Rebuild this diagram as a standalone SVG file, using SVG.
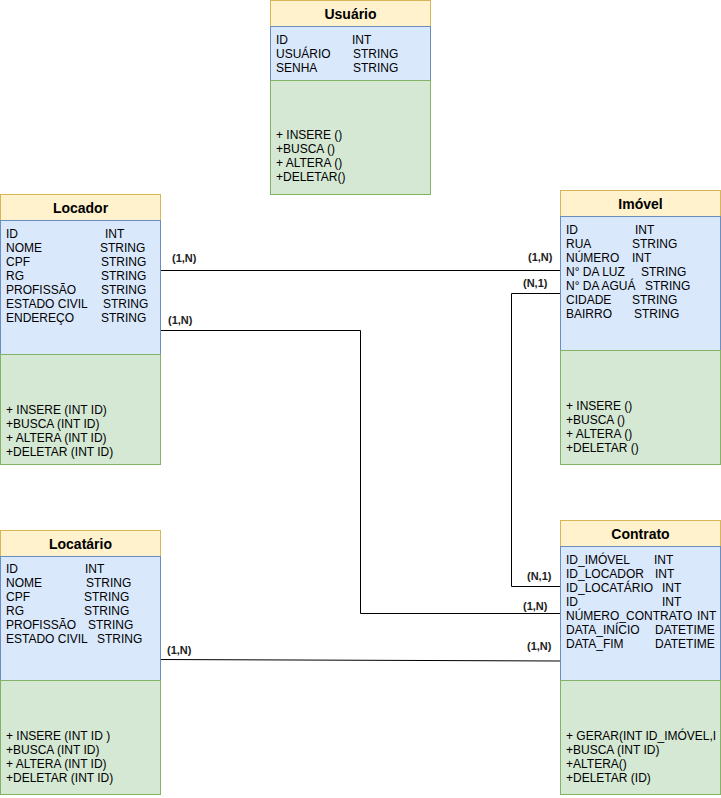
<svg xmlns="http://www.w3.org/2000/svg" width="721" height="798" viewBox="0 0 721 798">
<style>
.hd{fill:#fff2cc;stroke:#d6b656;stroke-width:1}
.at{fill:#dae8fc;stroke:#6c8ebf;stroke-width:1}
.mt{fill:#d5e8d4;stroke:#82b366;stroke-width:1}
text{font-family:"Liberation Sans",Arial,Helvetica,sans-serif;font-size:12px;fill:#000}
.ttl{font-size:14px;font-weight:bold;text-anchor:middle}
.lbl{font-size:11px;font-weight:bold;fill:#222}
.ln{fill:none;stroke:#000;stroke-width:1}
</style>
<rect width="721" height="798" fill="#fff"/>
<g id="connectors">
<path class="ln" d="M160 270.5H560"/>
<path class="ln" d="M160 330.5H360.5V613.5H560"/>
<path class="ln" d="M560 293.5H511.5V586.5H560"/>
<path class="ln" d="M160 659.5L560 661"/>
<text class="lbl" x="172" y="262">(1,N)</text>
<text class="lbl" x="528" y="261">(1,N)</text>
<text class="lbl" x="168" y="324">(1,N)</text>
<text class="lbl" x="523" y="287">(N,1)</text>
<text class="lbl" x="527" y="580">(N,1)</text>
<text class="lbl" x="523" y="610">(1,N)</text>
<text class="lbl" x="527" y="650">(1,N)</text>
<text class="lbl" x="167" y="654">(1,N)</text>
</g>
<g id="usuario">
<rect class="hd" x="270.5" y="0.5" width="160" height="26"/>
<rect class="at" x="270.5" y="26.5" width="160" height="54"/>
<rect class="mt" x="270.5" y="80.5" width="160" height="114"/>
<text class="ttl" x="350.5" y="18.5">Usuário</text>
<text x="276" y="43.5">ID<tspan x="352">INT</tspan></text>
<text x="276" y="57.5">USUÁRIO<tspan x="353">STRING</tspan></text>
<text x="276" y="71.5">SENHA<tspan x="353">STRING</tspan></text>
<text x="276" y="139">+ INSERE ()</text>
<text x="276" y="153">+BUSCA ()</text>
<text x="276" y="167">+ ALTERA ()</text>
<text x="276" y="181">+DELETAR()</text>
</g>
<g id="locador">
<rect class="hd" x="0.5" y="194.5" width="160" height="26"/>
<rect class="at" x="0.5" y="220.5" width="160" height="134"/>
<rect class="mt" x="0.5" y="354.5" width="160" height="110"/>
<text class="ttl" x="80.5" y="212.5">Locador</text>
<text x="6" y="237.5">ID<tspan x="105">INT</tspan></text>
<text x="6" y="251.5">NOME<tspan x="100">STRING</tspan></text>
<text x="6" y="265.5">CPF<tspan x="101">STRING</tspan></text>
<text x="6" y="279.5">RG<tspan x="101">STRING</tspan></text>
<text x="6" y="293.5">PROFISSÃO<tspan x="101">STRING</tspan></text>
<text x="6" y="307.5">ESTADO CIVIL<tspan x="103">STRING</tspan></text>
<text x="6" y="321.5">ENDEREÇO<tspan x="101">STRING</tspan></text>
<text x="6" y="414">+ INSERE (INT ID)</text>
<text x="6" y="428">+BUSCA (INT ID)</text>
<text x="6" y="442">+ ALTERA (INT ID)</text>
<text x="6" y="456">+DELETAR (INT ID)</text>
</g>
<g id="imovel">
<rect class="hd" x="560.5" y="190.5" width="160" height="26"/>
<rect class="at" x="560.5" y="216.5" width="160" height="134"/>
<rect class="mt" x="560.5" y="350.5" width="160" height="114"/>
<text class="ttl" x="640.5" y="208.5">Imóvel</text>
<text x="566" y="233.5">ID<tspan x="635">INT</tspan></text>
<text x="566" y="247.5">RUA<tspan x="632">STRING</tspan></text>
<text x="566" y="261.5">NÚMERO<tspan x="632">INT</tspan></text>
<text x="566" y="275.5">N° DA LUZ<tspan x="641">STRING</tspan></text>
<text x="566" y="289.5">N° DA AGUÁ<tspan x="645">STRING</tspan></text>
<text x="566" y="303.5">CIDADE<tspan x="632">STRING</tspan></text>
<text x="566" y="317.5">BAIRRO<tspan x="634">STRING</tspan></text>
<text x="566" y="409.5">+ INSERE ()</text>
<text x="566" y="423.5">+BUSCA ()</text>
<text x="566" y="437.5">+ ALTERA ()</text>
<text x="566" y="451.5">+DELETAR ()</text>
</g>
<g id="locatario">
<rect class="hd" x="0.5" y="530.5" width="160" height="26"/>
<rect class="at" x="0.5" y="556.5" width="160" height="124"/>
<rect class="mt" x="0.5" y="680.5" width="160" height="114"/>
<text class="ttl" x="80.5" y="548.5">Locatário</text>
<text x="6" y="573">ID<tspan x="85">INT</tspan></text>
<text x="6" y="587">NOME<tspan x="86">STRING</tspan></text>
<text x="6" y="601">CPF<tspan x="84">STRING</tspan></text>
<text x="6" y="615">RG<tspan x="84">STRING</tspan></text>
<text x="6" y="629">PROFISSÃO<tspan x="88">STRING</tspan></text>
<text x="6" y="643">ESTADO CIVIL<tspan x="97">STRING</tspan></text>
<text x="6" y="740">+ INSERE (INT ID )</text>
<text x="6" y="754">+BUSCA (INT ID)</text>
<text x="6" y="768">+ ALTERA (INT ID)</text>
<text x="6" y="782">+DELETAR (INT ID)</text>
</g>
<g id="contrato">
<rect class="hd" x="560.5" y="520.5" width="160" height="26"/>
<rect class="at" x="560.5" y="546.5" width="160" height="134"/>
<rect class="mt" x="560.5" y="680.5" width="160" height="114"/>
<text class="ttl" x="640.5" y="538.5">Contrato</text>
<text x="566" y="563.5">ID_IMÓVEL<tspan x="654">INT</tspan></text>
<text x="566" y="577.5">ID_LOCADOR<tspan x="655">INT</tspan></text>
<text x="566" y="591.5">ID_LOCATÁRIO<tspan x="662">INT</tspan></text>
<text x="566" y="605.5">ID<tspan x="662">INT</tspan></text>
<text x="566" y="619.5">NÚMERO_CONTRATO<tspan x="697">INT</tspan></text>
<text x="566" y="633.5">DATA_INÍCIO<tspan x="655">DATETIME</tspan></text>
<text x="566" y="647.5">DATA_FIM<tspan x="655">DATETIME</tspan></text>
<text x="566" y="740">+ GERAR(INT ID_IMÓVEL,I</text>
<text x="566" y="754">+BUSCA (INT ID)</text>
<text x="566" y="768">+ALTERA()</text>
<text x="566" y="782">+DELETAR (ID)</text>
</g>
</svg>
